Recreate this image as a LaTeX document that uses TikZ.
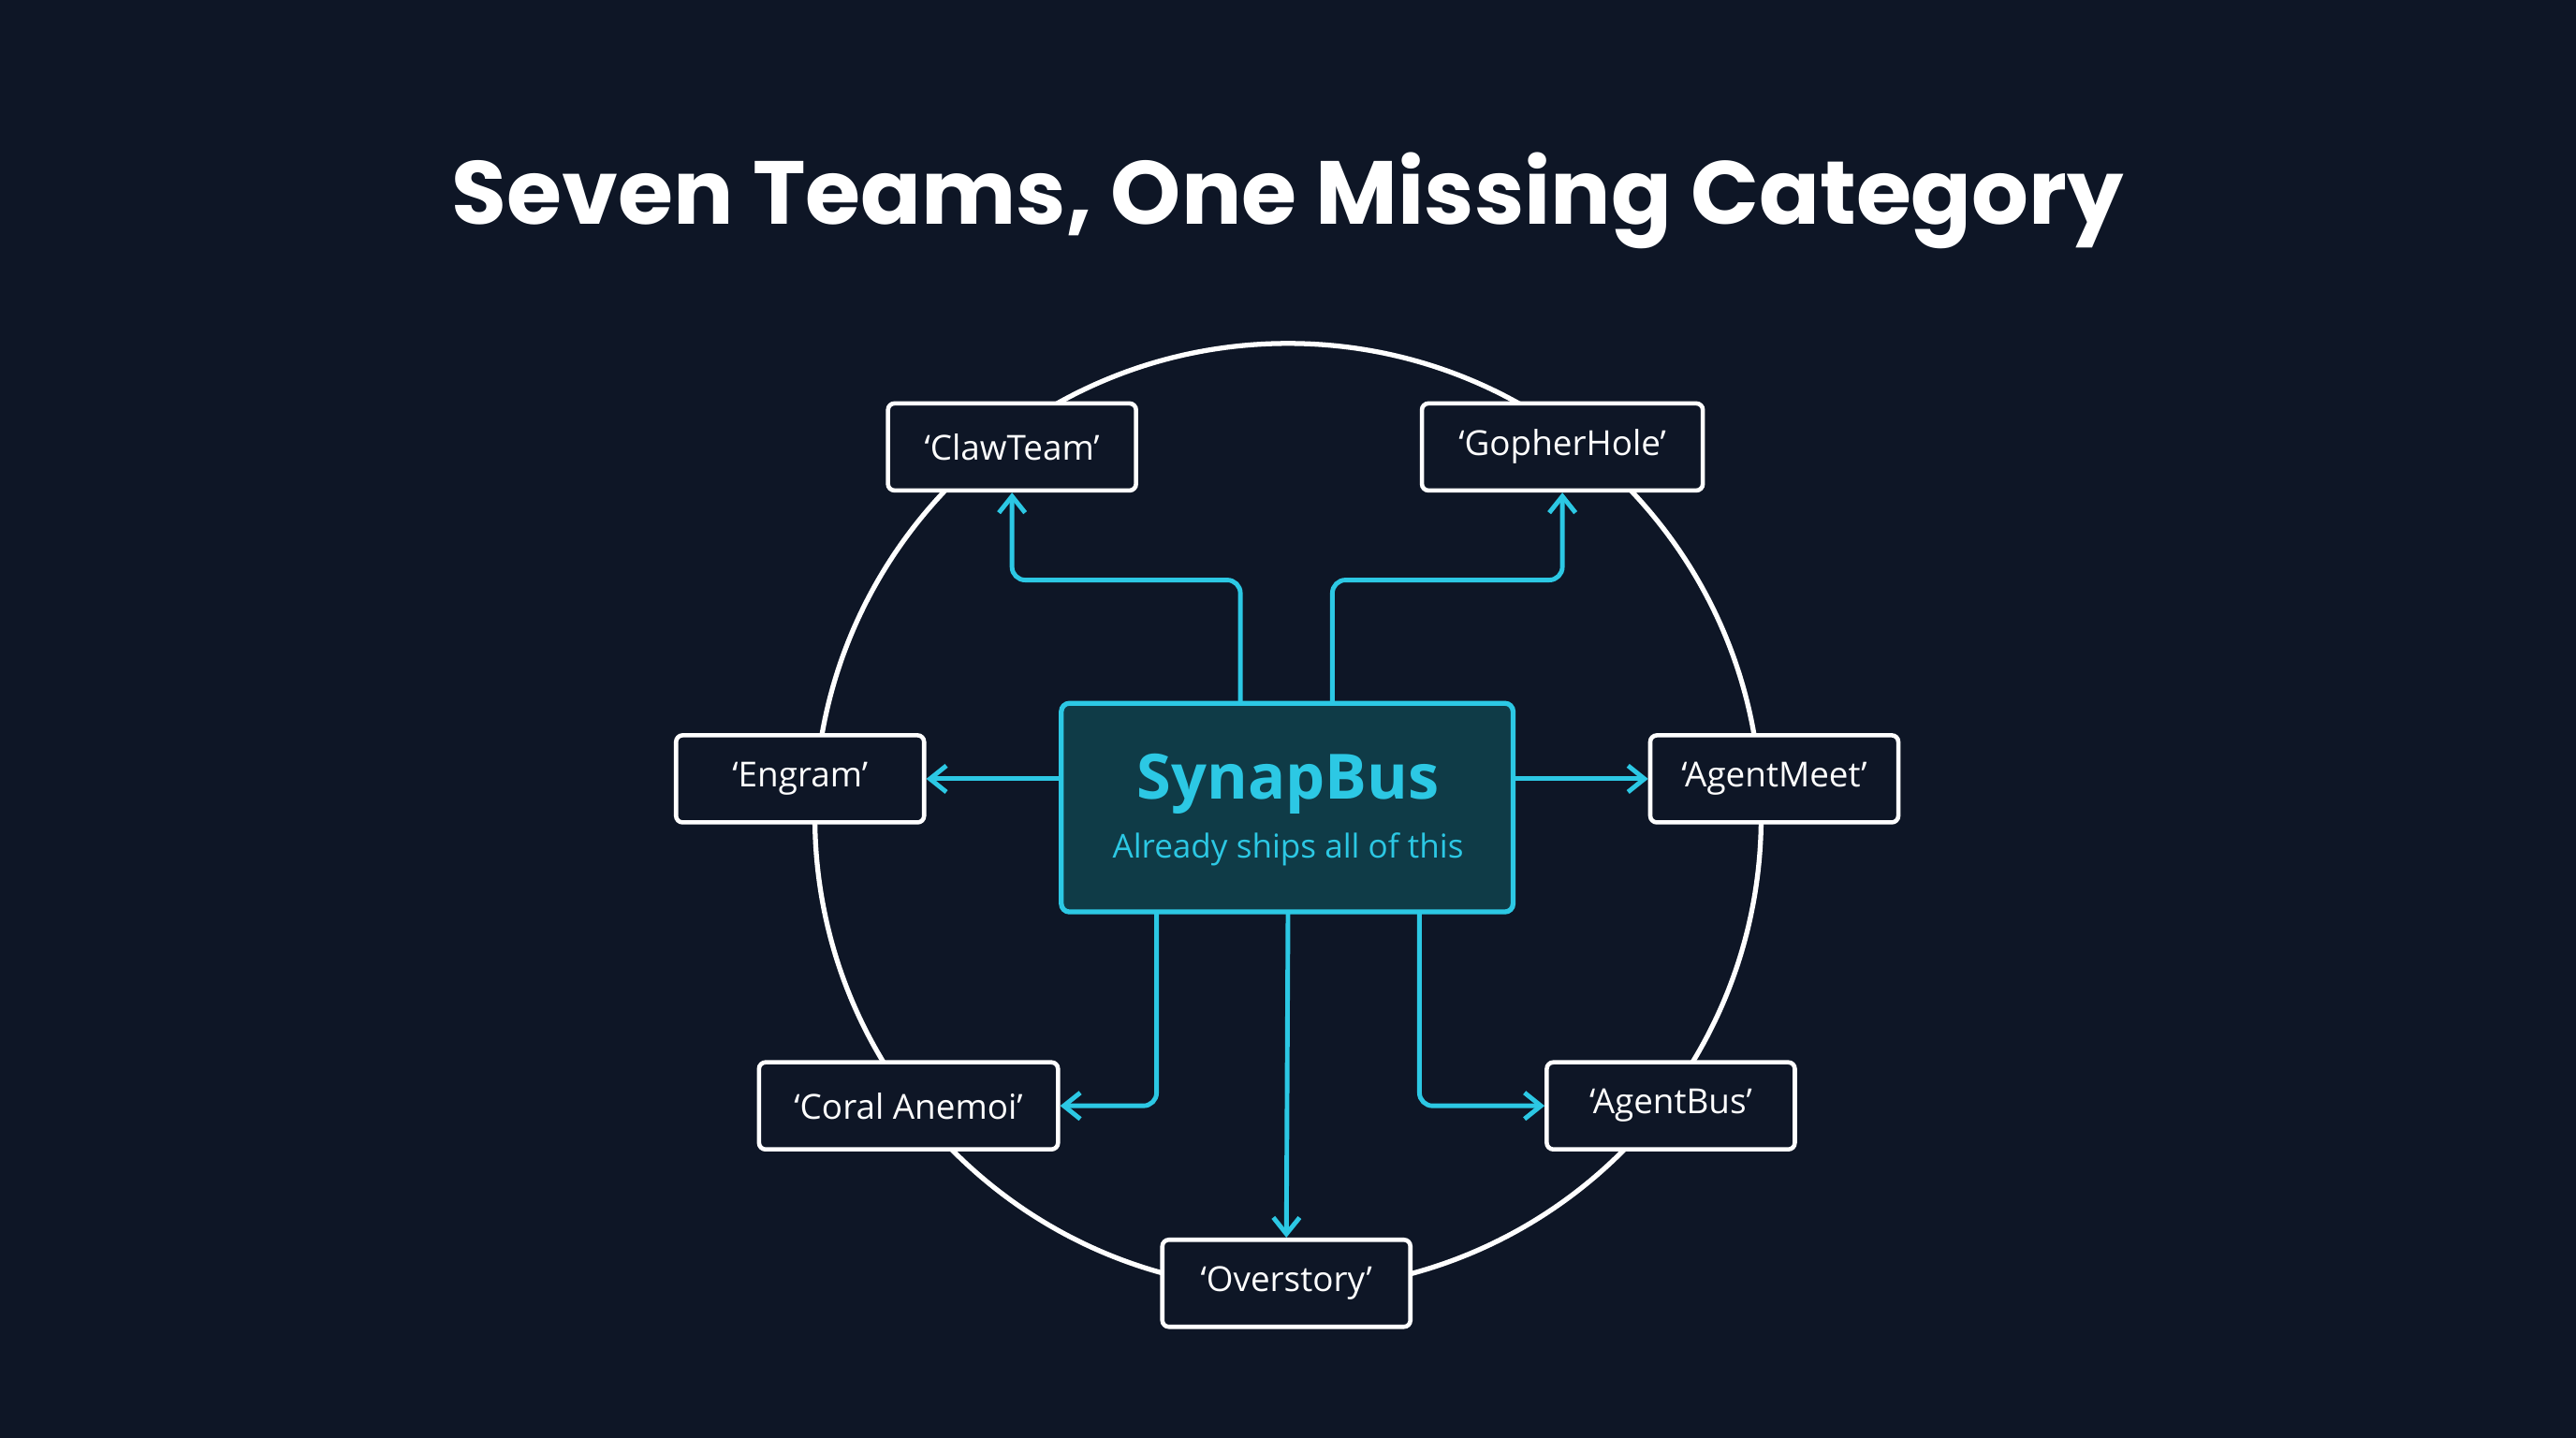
\documentclass[tikz,border=0pt]{standalone}
\usepackage{fontspec}
\setmainfont{Open Sans}
\newfontfamily\titlefont{Poppins}
\usetikzlibrary{arrows.meta}
\definecolor{bg}{HTML}{0E1626}
\definecolor{cy}{HTML}{2CC8E4}
\definecolor{cyfill}{HTML}{0F3B47}
\begin{document}
\begin{tikzpicture}[x=1pt,y=-1pt,
  team/.style={draw=white,line width=2.6pt,rounded corners=4pt,fill=bg,minimum height=53pt,text=white,font=\fontsize{21}{25}\selectfont,inner xsep=0pt},
  link/.style={draw=cy,line width=2.8pt,rounded corners=8pt,-{Straight Barb[length=10pt,width=16pt,line width=2.8pt]}}]
\useasboundingbox[fill=bg] (0,0) rectangle (1568,875);
\node[text=white,font=\titlefont\bfseries\fontsize{54.5}{60}\selectfont] (title) at (784,122) {Seven Teams, One Missing Category};
\draw[white,line width=3pt] (784,497) circle[radius=288];
\node[team,minimum width=151pt] (claw) at (616,272) {‘ClawTeam’};
\node[team,minimum width=171pt] (gopher) at (951,272) {‘GopherHole’};
\node[team,minimum width=151pt] (engram) at (487,474) {‘Engram’};
\node[team,minimum width=151pt] (meet) at (1080,474) {‘AgentMeet’};
\node[team,minimum width=182pt] (coral) at (553,673) {‘Coral Anemoi’};
\node[team,minimum width=151pt] (bus) at (1017,673) {‘AgentBus’};
\node[team,minimum width=151pt] (over) at (783,781) {‘Overstory’};
\node[draw=cy,line width=3pt,rounded corners=5pt,fill=cyfill,minimum width=275pt,minimum height=127pt] (syn) at (783.5,491.5) {};
\node[text=cy,font=\bfseries\fontsize{38}{44}\selectfont] (synt) at (784,477) {SynapBus};
\node[text=cy,font=\fontsize{20}{24}\selectfont] (synsub) at (784,517) {Already ships all of this};
\coordinate (a1) at (755,428); \coordinate (a2) at (811,428);
\coordinate (b1) at (704,555); \coordinate (b2) at (864,555); \coordinate (b3) at (784,555);
\draw[link] (a1) -- (755,353) -- (616,353) -- (claw.south);
\draw[link] (a2) -- (811,353) -- (951,353) -- (gopher.south);
\draw[link] (syn.west |- engram) -- (engram.east);
\draw[link] (syn.east |- meet) -- (meet.west);
\draw[link] (b1) -- (704,673) -- (coral.east);
\draw[link] (b2) -- (864,673) -- (bus.west);
\draw[link] (b3) -- (over.north);
\end{tikzpicture}
\end{document}
